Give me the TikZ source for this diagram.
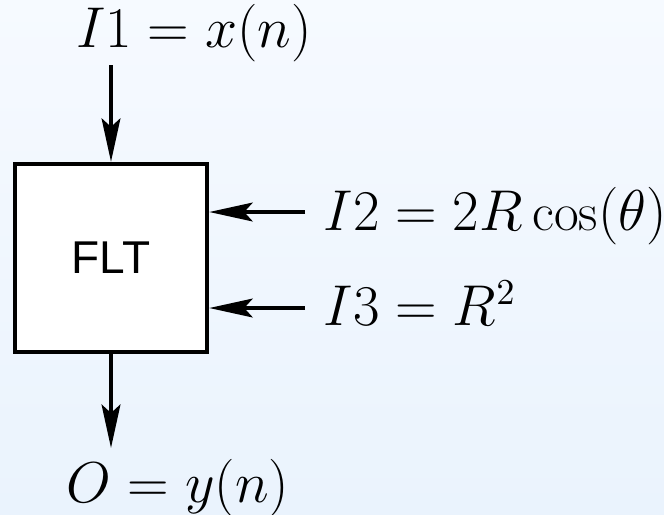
\documentclass[tikz,border=0pt]{standalone}
\usepackage{fontspec}
\newfontfamily\fltfont{Liberation Sans}
\usetikzlibrary{arrows.meta, positioning, calc}
\definecolor{bgTop}{RGB}{246,250,255}
\definecolor{bgBot}{RGB}{234,243,253}

\begin{document}
\begin{tikzpicture}[x=0.3pt, y=-0.3pt,
    lbl/.style={inner sep=0pt, font=\fontsize{16.1}{19.5}\selectfont},
    sig/.style={-{Stealth[length=13pt, width=5.6pt, inset=2.5pt]}, line width=1.35pt}]
        \shade[top color=bgTop, bottom color=bgBot] (0,0) rectangle (664,514);
        \useasboundingbox (0,0) rectangle (664,514);
        \node[draw, fill=white, line width=1.3pt, minimum width=57.6pt, minimum height=56.4pt,
          font=\fltfont\fontsize{13.8}{16}\selectfont] (flt) at (111,258) {FLT};
        \node[lbl, anchor=base] (in1) at (194,47) {$I1 = x(n)$};
        \node[lbl, anchor=base west] (in2) at (323,230) {$I2 = 2R\cos(\theta)$};
        \node[lbl, anchor=base west] (in3) at (323,325) {$I3 = R^2$};
        \node[lbl, anchor=base] (out) at (178,502) {$O = y(n)$};
        \coordinate (i1) at (111,65);
        \coordinate (i2) at (305,212);
        \coordinate (i3) at (305,308);
        \coordinate (o) at (111,448);
        \draw[sig] (i1) -- (flt.north);
        \draw[sig] (i2) -- (flt.east |- i2);
        \draw[sig] (i3) -- (flt.east |- i3);
        \draw[sig] (flt.south) -- (o);
      \end{tikzpicture}
\end{document}
